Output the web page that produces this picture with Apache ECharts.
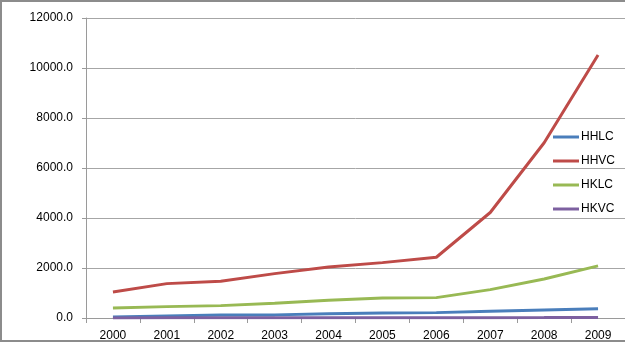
<!DOCTYPE html>
<html>
<head>
<meta charset="utf-8">
<script src="https://cdn.jsdelivr.net/npm/echarts@6/dist/echarts.min.js"></script>
<style>
html,body{margin:0;padding:0;background:#fff;}
#c{width:625px;height:342px;}
</style>
</head>
<body>
<div id="c"></div>
<script>
var years = ['2000','2001','2002','2003','2004','2005','2006','2007','2008','2009'];
var seriesNames = ['HHLC','HHVC','HKLC','HKVC'];
var HHLC = [40, 80, 120, 125, 170, 200, 215, 267, 320, 374];
var HHVC = [1040, 1375, 1470, 1775, 2040, 2215, 2430, 4220, 7010, 10520];
var HKLC = [400, 455, 495, 590, 710, 800, 815, 1135, 1560, 2085];
var HKVC = [5, 6, 8, 9, 10, 12, 13, 15, 17, 20];
var yTicks = [0, 2000, 4000, 6000, 8000, 10000, 12000];
var colors = ['#4A7EBB', '#BE4B48', '#98B954', '#7D60A0'];

var values = [HHLC, HHVC, HKLC, HKVC];
var font = 'Liberation Sans, Arial, sans-serif';
var chart = echarts.init(document.getElementById('c'));
chart.setOption({
  animation: false,
  backgroundColor: '#fff',
  color: colors,
  graphic: [{
    type: 'polyline', shape: {points: [[625, 1], [1, 1], [1, 341], [625, 341]]},
    style: {fill: 'none', stroke: '#8c8c8c', lineWidth: 2}, silent: true
  }],
  grid: {left: 86, right: 0, top: 18, bottom: 24, containLabel: false},
  legend: {
    orient: 'vertical', left: 553, top: 130, itemGap: 10, itemWidth: 26, itemHeight: 3,
    padding: 0, icon: 'rect',
    textStyle: {fontFamily: font, fontSize: 12, color: '#000', lineHeight: 14, padding: [0, 0, 0, -3]},
    data: seriesNames
  },
  xAxis: {
    type: 'category', data: years, boundaryGap: true,
    axisLine: {lineStyle: {color: '#9a9a9a', width: 1}},
    axisTick: {show: true, length: 5, lineStyle: {color: '#9a9a9a'}},
    axisLabel: {fontFamily: font, fontSize: 12, color: '#000', margin: 12}
  },
  yAxis: {
    type: 'value', min: 0, max: 12000, interval: 2000,
    axisLine: {show: true, lineStyle: {color: '#9a9a9a'}},
    axisTick: {show: true, length: 4, lineStyle: {color: '#9a9a9a'}},
    axisLabel: {fontFamily: font, fontSize: 12, color: '#000', margin: 13,
      formatter: function (v) { return v.toFixed(1); }},
    splitLine: {lineStyle: {color: '#a6a6a6', width: 1}}
  },
  series: seriesNames.map(function (n, i) {
    return {
      name: n, type: 'line', data: values[i], symbol: 'none',
      lineStyle: {width: 3, color: colors[i]}, itemStyle: {color: colors[i]}
    };
  })
});
</script>
</body>
</html>
